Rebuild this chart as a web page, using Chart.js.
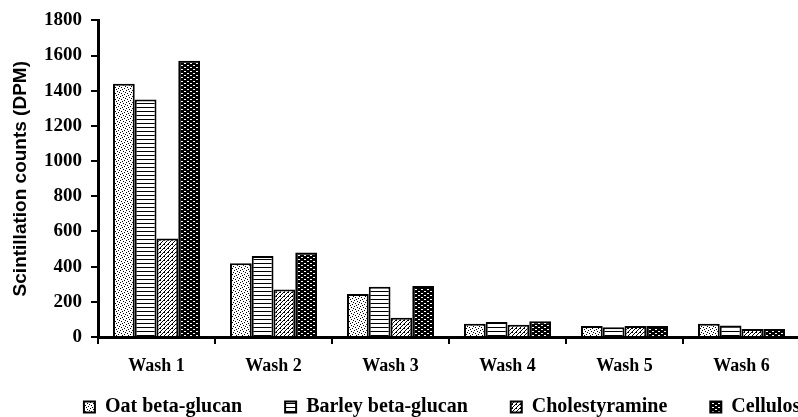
<!DOCTYPE html>
<html>
<head>
<meta charset="utf-8">
<script src="https://cdn.jsdelivr.net/npm/chart.js@4.4.1/dist/chart.umd.min.js"></script>
<style>
  html, body { margin: 0; padding: 0; background: #fff; overflow: hidden; }
  #wrap { width: 893px; height: 417px; }
</style>
</head>
<body>
<div id="wrap"><canvas id="c" width="893" height="417"></canvas></div>
<script>
// Radioactivity recovered in each wash, per binding material
const washes = ['Wash 1', 'Wash 2', 'Wash 3', 'Wash 4', 'Wash 5', 'Wash 6'];
const oatBetaGlucan = [1440, 420, 245, 75, 62, 75];
const barleyBetaGlucan = [1350, 460, 285, 85, 55, 65];
const cholestyramine = [560, 270, 110, 70, 62, 45];
const cellulose = [1570, 480, 290, 90, 62, 45];
const yTicks = [0, 200, 400, 600, 800, 1000, 1200, 1400, 1600, 1800];

// Small monochrome fill tiles
function tile(w, h, bg, fg, pixels) {
  const cv = document.createElement('canvas');
  cv.width = w; cv.height = h;
  const g = cv.getContext('2d');
  g.fillStyle = bg; g.fillRect(0, 0, w, h);
  g.fillStyle = fg;
  pixels.forEach(([x, y]) => g.fillRect(x, y, 1, 1));
  return g.createPattern(cv, 'repeat');
}
const ctx = document.getElementById('c').getContext('2d');
const dots = tile(6, 6, '#fff', '#000', [[0, 0], [3, 1], [1, 3], [4, 4], [5, 2], [2, 5]]);
const hLines = tile(4, 4, '#fff', '#000', [[0, 3], [1, 3], [2, 3], [3, 3]]);
const diag = tile(4, 4, '#fff', '#000', [[3, 0], [2, 1], [1, 2], [0, 3], [0, 0]]);
const checks = tile(6, 4, '#000', '#fff', [[1, 1], [2, 1], [4, 3], [5, 3]]);

const serif = '"Liberation Serif", "Times New Roman", serif';
const sans = '"Liberation Sans", Arial, sans-serif';

function series(label, data, fill) {
  return {
    label, data,
    backgroundColor: fill,
    borderColor: '#000',
    borderWidth: 2,
    borderSkipped: 'bottom',
    categoryPercentage: 0.744,
    barPercentage: 1.0
  };
}

new Chart(ctx, {
  type: 'bar',
  data: {
    labels: washes,
    datasets: [
      series('Oat beta-glucan', oatBetaGlucan, dots),
      series('Barley beta-glucan', barleyBetaGlucan, hLines),
      series('Cholestyramine', cholestyramine, diag),
      series('Cellulose', cellulose, checks)
    ]
  },
  options: {
    responsive: false,
    animation: false,
    devicePixelRatio: 1,
    layout: { padding: { top: 12.5, left: 0, right: 0, bottom: -10 } },
    plugins: {
      tooltip: { enabled: false },
      legend: {
        position: 'bottom',
        labels: {
          color: '#000',
          font: { family: serif, size: 20, weight: 'bold' },
          boxWidth: 11,
          boxHeight: 11,
          padding: 43
        }
      }
    },
    scales: {
      x: {
        grid: { drawOnChartArea: false, color: '#000', lineWidth: 2, tickLength: 7, offset: true },
        border: { display: true, color: '#000', width: 3 },
        ticks: { color: '#000', font: { family: serif, size: 18, weight: 'bold' }, padding: 12, maxRotation: 0 },
        // compact axis box; labels may hang below it into the legend's top margin
        afterFit: s => { s.height = 17; s._computeLabelArea = () => null; }
      },
      y: {
        min: 0,
        max: 1800,
        afterBuildTicks: s => { s.ticks = yTicks.map(v => ({ value: v })); },
        grid: { drawOnChartArea: false, color: '#000', lineWidth: 2, tickLength: 7 },
        border: { display: true, color: '#000', width: 3 },
        ticks: {
          color: '#000',
          font: { family: serif, size: 19, weight: 'bold' },
          padding: 9,
          callback: v => String(v)
        },
        title: {
          display: true,
          text: 'Scintillation counts (DPM)',
          color: '#000',
          font: { family: sans, size: 19, weight: 'bold' },
          padding: { top: 9, bottom: 0 }
        },
        afterFit: s => { s.width = 98; }
      },
      yPad: {
        position: 'right',
        display: true,
        grid: { display: false },
        border: { display: false },
        ticks: { display: false },
        afterFit: s => { s.width = 93; }
      }
    }
  }
});
</script>
</body>
</html>
